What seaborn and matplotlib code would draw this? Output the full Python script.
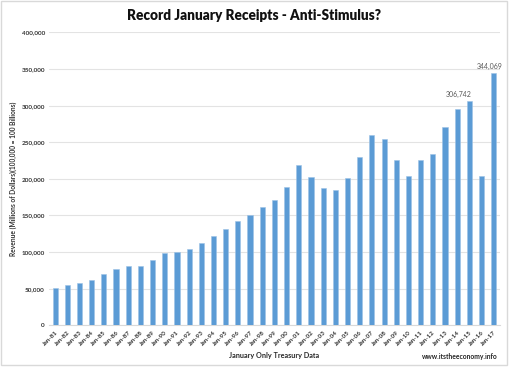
import matplotlib
matplotlib.use("Agg")
import matplotlib.pyplot as plt
import seaborn as sns
import pandas as pd
from matplotlib.patches import Rectangle

years = ["81","82","83","84","85","86","87","88","89","90","91","92","93","94","95","96","97","98","99",
         "00","01","02","03","04","05","06","07","08","09","10","11","12","13","14","15","16","17"]
categories = ["Jan-" + y for y in years]
receipts = [50500, 55000, 57400, 62300, 70100, 76500, 81400, 81400, 89000, 99200, 100600, 103800,
            112000, 122400, 131100, 142500, 150300, 162000, 171200, 188700, 218600, 203000, 187200,
            184800, 201700, 229500, 260000, 254500, 225400, 204400, 225800, 233600, 271300, 295000,
            306742, 204000, 344069]
labelled = {"Jan-15": "306,742", "Jan-17": "344,069"}
y_ticks = [0, 50000, 100000, 150000, 200000, 250000, 300000, 350000, 400000]

df = pd.DataFrame({"month": categories, "receipts": receipts})

sns.set_theme(style="white")
plt.rcParams["font.family"] = ["Lato", "DejaVu Sans"]

fig = plt.figure(figsize=(5.09, 3.69), dpi=100)
ax = fig.add_axes([0.0963, 0.1184, 0.8857, 0.7936])

sns.barplot(data=df, x="month", y="receipts", color="#5B9BD5", width=0.42,
            saturation=1, edgecolor="#9DC3E6", linewidth=0.4, ax=ax, zorder=3)

ax.set_ylim(0, 400000)
ax.set_xlim(-0.5, len(categories) - 0.5)
ax.set_yticks(y_ticks)
ax.set_yticklabels([f"{v:,}" for v in y_ticks], fontsize=4.6, fontweight="bold", color="#333333")
ax.yaxis.grid(True, color="#E3E3E3", linewidth=0.8, zorder=0)
ax.set_axisbelow(True)
ax.tick_params(axis="both", length=0, pad=3)
ax.set_xticks(range(len(categories)))
ax.set_xticklabels(categories, rotation=45, ha="right", rotation_mode="anchor",
                   fontsize=4.5, fontweight="bold", color="#333333")
for s in ["top", "right", "left"]:
    ax.spines[s].set_visible(False)
ax.spines["bottom"].set_color("#D9D9D9")
ax.spines["bottom"].set_linewidth(0.8)

ax.set_xlabel("")
ax.set_ylabel("")

for i, c in enumerate(categories):
    if c in labelled:
        dx = -11 if c == "Jan-15" else -4
        ax.annotate(labelled[c], xy=(i, receipts[i]), xytext=(dx, 3),
                    textcoords="offset pixels", ha="center", va="bottom",
                    fontsize=5, color="#595959")

fig.text(0.5, 0.958, "Record January Receipts - Anti-Stimulus?", ha="center", va="center",
         fontsize=9.8, fontweight="heavy", color="#111111")
fig.text(0.026, 0.515, "Revenue (Millions of Dollars)(100,000 = 100 Billions)", rotation=90,
         ha="center", va="center", fontsize=4.8, fontweight="bold", color="#333333")
fig.text(0.539, 0.037, "January Only Treasury Data", ha="center", va="center",
         fontsize=5.2, fontweight="bold", color="#262626")
fig.text(0.977, 0.035, "www.itstheeconomy.info", ha="right", va="center",
         fontsize=4.9, fontweight="bold", color="#262626")

fig.patches.append(Rectangle((0.002, 0.012), 0.995, 0.985, transform=fig.transFigure,
                             fill=False, edgecolor="#D9D9D9", linewidth=1))

fig.savefig("out.png", dpi=100)
